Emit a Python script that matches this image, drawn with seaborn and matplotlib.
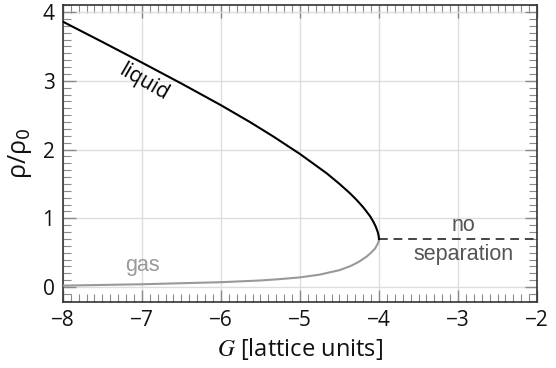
import numpy as np
import pandas as pd
import matplotlib
matplotlib.use("Agg")
import matplotlib.pyplot as plt
from matplotlib.ticker import MultipleLocator
import seaborn as sns

# Coexistence densities of the two phases versus interaction strength G
liquid_G = [-8.0, -7.5, -7.0, -6.5, -6.0, -5.633, -5.338, -5.0, -4.662, -4.5,
            -4.367, -4.282, -4.2, -4.156, -4.11, -4.072, -4.04, -4.016,
            -4.004, -4.0]
liquid_rho = [3.86, 3.565, 3.265, 2.96, 2.645, 2.40, 2.19, 1.935, 1.654, 1.50,
              1.363, 1.265, 1.16, 1.095, 1.025, 0.95, 0.875, 0.80,
              0.74, 0.694]

gas_G = [-8.0, -7.0, -6.0, -5.5, -5.25, -5.0, -4.75, -4.5, -4.35, -4.25,
         -4.16, -4.1, -4.05, -4.02, -4.005, -4.0]
gas_rho = [0.02, 0.04, 0.07, 0.095, 0.115, 0.14, 0.18, 0.245, 0.31, 0.37,
           0.44, 0.50, 0.56, 0.62, 0.66, 0.694]

# Single-phase region beyond the critical point
nosep_G = [-4.0, -2.0]
nosep_rho = [0.694, 0.694]

sns.set_theme(style="white")
plt.rcParams["font.family"] = ["Open Sans", "DejaVu Sans"]

fig = plt.figure(figsize=(5.56, 3.68), dpi=100)
ax = fig.add_axes([0.113, 0.179, 0.853, 0.807])

liquid = pd.DataFrame({"G": liquid_G, "rho": liquid_rho})
gas = pd.DataFrame({"G": gas_G, "rho": gas_rho})
nosep = pd.DataFrame({"G": nosep_G, "rho": nosep_rho})

sns.lineplot(data=gas, x="G", y="rho", sort=False, estimator=None,
             color="#999999", lw=1.5, ax=ax, zorder=3)
sns.lineplot(data=liquid, x="G", y="rho", sort=False, estimator=None,
             color="black", lw=1.5, ax=ax, zorder=4)
sns.lineplot(data=nosep, x="G", y="rho", sort=False, estimator=None,
             color="#444444", lw=1.4, ax=ax, zorder=3,
             linestyle=(0, (4.5, 3)))

ax.set_xlim(-8, -2)
ax.set_ylim(-0.22, 4.1)
ax.set_xticks(range(-8, -1))
ax.set_xticklabels([f"\u2212{abs(v)}" for v in range(-8, -1)])
ax.xaxis.set_minor_locator(MultipleLocator(0.1))
ax.yaxis.set_major_locator(MultipleLocator(1))
ax.yaxis.set_minor_locator(MultipleLocator(0.1))
ax.grid(True, which="major", color="#dddddd", lw=1.0)
ax.set_axisbelow(True)

for s in ax.spines.values():
    s.set_color("#333333")
    s.set_linewidth(1.2)

ax.tick_params(which="both", direction="in", top=True, right=True,
               bottom=True, left=True, color="#8a8a8a")
ax.tick_params(which="major", length=9, width=1.0, labelsize=15,
               labelcolor="#111111", pad=6)
ax.tick_params(which="minor", length=5.5, width=0.8)

ax.set_xlabel("$G$ [lattice units]", fontsize=17, color="#111111",
              math_fontfamily="stix", labelpad=3)
ax.set_ylabel("ρ/ρ$_0$", fontsize=18, color="#111111",
              math_fontfamily="dejavusans", labelpad=6)

ann = ["Liberation Sans", "DejaVu Sans"]
ax.text(-6.97, 2.97, "liquid", rotation=-30, ha="center", va="center",
        fontsize=15, color="black", family=["Open Sans", "DejaVu Sans"])
ax.text(-6.99, 0.31, "gas", ha="center", va="center", fontsize=15.5,
        color="#999999", family=ann)
ax.text(-2.93, 0.89, "no", ha="center", va="center", fontsize=15.5,
        color="#555555", family=ann)
ax.text(-2.93, 0.47, "separation", ha="center", va="center", fontsize=15.5,
        color="#555555", family=ann)

fig.savefig("out.png", dpi=100)
